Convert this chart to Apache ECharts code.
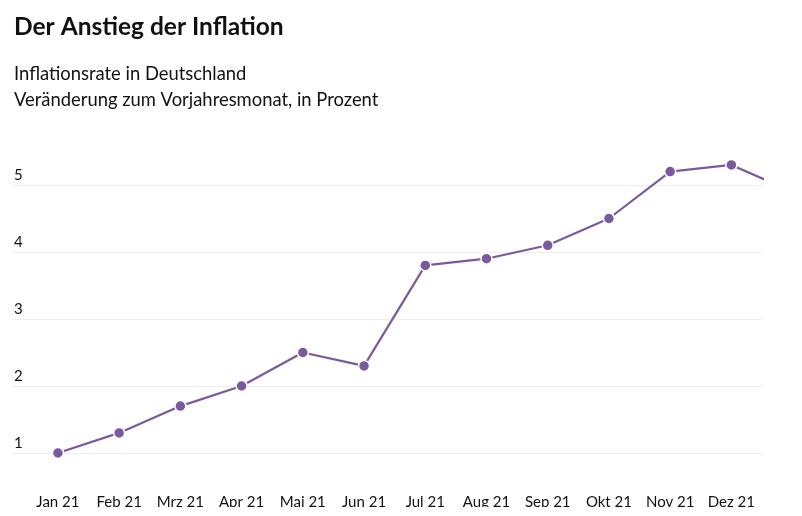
<!DOCTYPE html>
<html>
<head>
<meta charset="utf-8">
<script src="https://cdn.jsdelivr.net/npm/echarts@6/dist/echarts.min.js"></script>
<style>
html,body{margin:0;padding:0;background:#fff;}
#c{width:802px;height:507px;}
</style>
</head>
<body>
<div id="c"></div>
<script>
var months = ['Jan 21','Feb 21','Mrz 21','Apr 21','Mai 21','Jun 21','Jul 21','Aug 21','Sep 21','Okt 21','Nov 21','Dez 21','Jan 22'];
var inflation = [1.0, 1.3, 1.7, 2.0, 2.5, 2.3, 3.8, 3.9, 4.1, 4.5, 5.2, 5.3, 4.9];
var yTicks = [1, 2, 3, 4, 5];
var xTicks = [0,1,2,3,4,5,6,7,8,9,10,11];

var seriesData = inflation.map(function(v, i){ return [i, v]; });
var font = 'Lato';
var chart = echarts.init(document.getElementById('c'), null, {renderer:'canvas'});
chart.setOption({
  animation: false,
  backgroundColor: '#fff',
  title: [
    {text: 'Der Anstieg der Inflation', left: 14, top: 15, padding: 0,
     textStyle: {fontFamily: font, fontWeight: 'bold', fontSize: 24.5, color: '#111'}},
    {text: 'Inflationsrate in Deutschland\nVeränderung zum Vorjahresmonat, in Prozent', left: 14, top: 61, padding: 0,
     textStyle: {fontFamily: font, fontWeight: 'normal', fontSize: 18.4, color: '#111', lineHeight: 26}}
  ],
  grid: {left: 12, right: 40, top: 134.75, bottom: 20.5, containLabel: false, outerBoundsMode: 'none'},
  xAxis: {
    type: 'value', min: -0.75, max: 11.5,
    axisLine: {show: false}, axisTick: {show: false, customValues: xTicks}, splitLine: {show: false},
    axisLabel: {customValues: xTicks, margin: 8, fontFamily: font, fontSize: 15, color: '#111',
      formatter: function(v){ return months[v]; }}
  },
  yAxis: {
    type: 'value', min: 0.5, max: 5.75,
    axisLine: {show: false},
    axisTick: {show: false, customValues: yTicks},
    splitLine: {show: true, lineStyle: {color: '#eeeeee', width: 1}},
    axisLabel: {customValues: yTicks, inside: true, margin: 2, verticalAlign: 'bottom', align: 'left',
      padding: [0,0,2,0], fontFamily: font, fontSize: 15, color: '#111'}
  },
  series: [{
    type: 'line', data: seriesData, clip: true,
    symbol: 'circle', symbolSize: 11, showSymbol: true,
    lineStyle: {color: '#7a5a9f', width: 2.2},
    itemStyle: {color: '#7a5a9f', borderColor: '#fff', borderWidth: 1.5}
  }]
});
</script>
</body>
</html>
